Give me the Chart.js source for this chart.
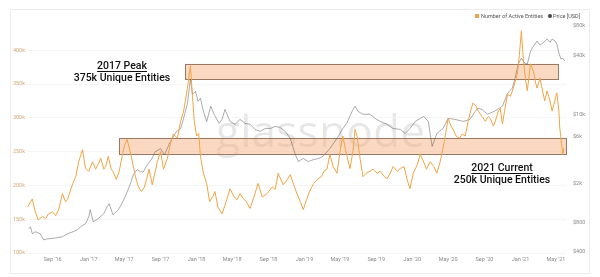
<!DOCTYPE html>
<html><head><meta charset="utf-8">
<script src="https://cdn.jsdelivr.net/npm/chart.js@4.4.0/dist/chart.umd.min.js"></script>
<style>
html,body{margin:0;padding:0;background:#fff;}
#wrap{position:relative;width:600px;height:277px;overflow:hidden;font-family:Roboto,sans-serif;}
#card{position:absolute;left:10px;top:9px;width:580px;height:265px;border:1px solid #ececec;box-sizing:border-box;}
#wm{position:absolute;left:216px;top:104px;font-family:'Open Sans',sans-serif;font-size:44px;line-height:52px;letter-spacing:0.3px;color:rgba(0,0,0,0.11);white-space:nowrap;}
#cv{position:absolute;left:0;top:0;width:600px;height:277px;}
.lg{position:absolute;top:12px;font-size:5.5px;line-height:8px;color:#555;white-space:nowrap;}
.sw{position:absolute;top:14px;width:4px;height:4px;}
.note{position:absolute;text-align:center;font-family:Roboto,sans-serif;font-weight:500;font-size:10.5px;line-height:12px;color:#111;white-space:nowrap;}
.note u{text-decoration:underline;text-decoration-thickness:1px;text-underline-offset:1.5px;}
</style></head>
<body>
<div id="wrap">
  <div id="card"></div>
  <div id="wm">glassnode</div>
  <div id="cv"><canvas id="c"></canvas></div>
  <div class="sw" style="left:475px;background:#f3a04a;"></div>
  <div class="lg" style="left:481px;">Number of Active Entities</div>
  <div class="sw" style="left:548px;background:#444;border-radius:50%;"></div>
  <div class="lg" style="left:553px;">Price [USD]</div>
  <div class="note" style="left:42px;top:60px;width:160px;"><u>2017 Peak</u><br>375k Unique Entities</div>
  <div class="note" style="left:422px;top:162px;width:160px;"><u>2021 Current</u><br>250k Unique Entities</div>
</div>
<script>
const entityDates = ['2016-06-08','2016-06-24','2016-07-04','2016-07-14','2016-07-28','2016-08-08','2016-08-18','2016-09-01','2016-09-11','2016-09-21','2016-10-04','2016-10-14','2016-10-21','2016-11-08','2016-11-18','2016-11-28','2016-12-11','2016-12-21','2017-01-01','2017-01-14','2017-01-24','2017-02-01','2017-02-11','2017-02-21','2017-02-27','2017-03-08','2017-03-18','2017-03-24','2017-04-04','2017-04-14','2017-04-24','2017-05-01','2017-05-11','2017-05-21','2017-06-01','2017-06-08','2017-06-18','2017-06-28','2017-07-08','2017-07-18','2017-07-24','2017-08-04','2017-08-14','2017-08-21','2017-09-01','2017-09-11','2017-09-24','2017-10-04','2017-10-14','2017-10-28','2017-11-08','2017-11-18','2017-12-01','2017-12-11','2017-12-18','2017-12-24','2018-01-01','2018-01-08','2018-01-14','2018-01-24','2018-02-04','2018-02-14','2018-02-24','2018-03-04','2018-03-14','2018-03-28','2018-04-11','2018-04-24','2018-05-08','2018-05-18','2018-05-28','2018-06-04','2018-06-18','2018-07-01','2018-07-14','2018-07-28','2018-08-11','2018-08-28','2018-09-14','2018-09-24','2018-10-04','2018-10-21','2018-11-04','2018-11-14','2018-11-28','2018-12-08','2018-12-18','2018-12-28','2019-01-08','2019-01-18','2019-02-01','2019-02-14','2019-02-27','2019-03-08','2019-03-18','2019-03-28','2019-04-08','2019-04-21','2019-05-01','2019-05-11','2019-05-21','2019-06-04','2019-06-14','2019-06-21','2019-06-28','2019-07-08','2019-07-18','2019-07-28','2019-08-11','2019-08-21','2019-09-04','2019-09-14','2019-09-28','2019-10-08','2019-10-18','2019-10-28','2019-11-11','2019-11-21','2019-12-04','2019-12-14','2019-12-24','2020-01-04','2020-01-18','2020-01-28','2020-02-08','2020-02-18','2020-03-01','2020-03-14','2020-03-24','2020-04-04','2020-04-14','2020-04-24','2020-05-01','2020-05-11','2020-05-18','2020-05-28','2020-06-08','2020-06-18','2020-06-28','2020-07-08','2020-07-18','2020-07-24','2020-08-04','2020-08-11','2020-08-24','2020-09-04','2020-09-14','2020-09-21','2020-10-01','2020-10-08','2020-10-18','2020-10-24','2020-11-01','2020-11-08','2020-11-18','2020-11-28','2020-12-08','2020-12-14','2020-12-21','2020-12-28','2021-01-04','2021-01-11','2021-01-18','2021-01-24','2021-02-04','2021-02-14','2021-02-20','2021-02-26','2021-03-08','2021-03-18','2021-03-24','2021-04-01','2021-04-11','2021-04-18','2021-04-24','2021-05-01','2021-05-04','2021-05-11','2021-05-14','2021-05-21','2021-05-24','2021-05-28'];
const entityValues = [168000,180000,161000,149000,154000,151000,158000,161000,155000,164000,188000,176000,179000,203000,213000,235000,253000,225000,221000,235000,224000,231000,240000,224000,228000,243000,224000,221000,209000,221000,243000,258000,268000,250000,228000,213000,198000,191000,197000,213000,224000,201000,221000,235000,250000,224000,240000,261000,276000,270000,295000,310000,344000,377000,332000,295000,273000,277000,243000,218000,203000,176000,183000,191000,168000,158000,176000,195000,183000,179000,188000,183000,176000,166000,183000,203000,183000,188000,198000,194000,218000,201000,209000,216000,198000,186000,176000,164000,179000,191000,203000,209000,213000,221000,224000,246000,228000,218000,250000,273000,250000,225000,250000,283000,273000,240000,213000,218000,221000,224000,218000,221000,213000,210000,218000,228000,221000,225000,228000,209000,195000,218000,231000,246000,235000,224000,235000,228000,218000,235000,255000,280000,299000,288000,283000,273000,270000,276000,273000,295000,313000,322000,317000,310000,302000,295000,302000,299000,288000,295000,310000,314000,291000,310000,335000,332000,344000,354000,365000,392000,429000,384000,357000,340000,380000,369000,354000,344000,359000,337000,325000,340000,325000,310000,320000,332000,337000,310000,285000,258000,246000,255000];

const priceDates = ['2016-06-11','2016-06-18','2016-06-24','2016-07-04','2016-07-21','2016-08-01','2016-08-14','2016-09-11','2016-10-04','2016-10-21','2016-11-08','2016-11-24','2016-12-04','2016-12-21','2017-01-01','2017-01-06','2017-01-16','2017-02-01','2017-02-21','2017-03-04','2017-03-11','2017-03-18','2017-03-24','2017-04-11','2017-04-21','2017-05-04','2017-05-21','2017-06-01','2017-06-14','2017-06-24','2017-07-04','2017-07-18','2017-08-01','2017-08-14','2017-09-01','2017-09-14','2017-10-04','2017-10-24','2017-11-08','2017-11-18','2017-12-01','2017-12-11','2017-12-18','2017-12-28','2018-01-06','2018-01-14','2018-01-24','2018-02-04','2018-02-18','2018-03-01','2018-03-18','2018-03-28','2018-04-07','2018-04-24','2018-05-11','2018-05-28','2018-06-14','2018-07-01','2018-07-18','2018-08-04','2018-08-21','2018-09-08','2018-09-24','2018-10-11','2018-10-28','2018-11-14','2018-12-01','2018-12-11','2018-12-28','2019-01-14','2019-02-01','2019-02-18','2019-03-04','2019-03-28','2019-04-21','2019-05-11','2019-05-24','2019-06-11','2019-06-21','2019-07-01','2019-07-18','2019-08-11','2019-08-28','2019-09-14','2019-10-08','2019-10-28','2019-11-21','2019-12-08','2019-12-24','2020-01-11','2020-01-28','2020-02-08','2020-02-24','2020-03-08','2020-03-24','2020-04-14','2020-05-01','2020-05-24','2020-06-21','2020-07-14','2020-08-08','2020-08-24','2020-09-11','2020-10-04','2020-11-01','2020-11-18','2020-12-04','2020-12-14','2020-12-24','2021-01-04','2021-01-14','2021-01-24','2021-02-04','2021-02-14','2021-02-26','2021-03-08','2021-03-18','2021-04-01','2021-04-11','2021-04-18','2021-04-28','2021-05-04','2021-05-11','2021-05-18','2021-05-24','2021-05-31'];
const priceValues = [690,720,612,641,612,531,543,556,570,612,641,672,721,774,912,1075,811,870,980,1155,1240,1075,956,1075,1210,1460,1940,2450,2760,2630,2600,3100,3500,4200,4500,3900,5300,6700,7200,9200,13000,23000,16100,17300,13700,14700,10800,8500,12200,10100,8150,8950,11300,8540,7960,8950,8150,7960,7080,6750,7240,7240,7590,7400,6750,5720,3930,3330,3580,3330,3490,3580,3750,4520,5720,7240,8150,10800,12200,10800,10100,10100,9170,8540,7960,7240,7080,6440,7240,8540,9170,9600,8540,4750,6440,7240,9170,8950,8540,8950,11600,11300,10100,10800,12200,16500,18600,23500,32700,37700,33700,32700,44400,49900,56200,51100,53600,58900,54700,58900,56200,52400,42400,36900,37700,35100];

const xTickDates = ['2016-09-01','2017-01-01','2017-05-01','2017-09-01','2018-01-01','2018-05-01','2018-09-01','2019-01-01','2019-05-01','2019-09-01','2020-01-01','2020-05-01','2020-09-01','2021-01-01','2021-05-01'];
const xTickLabels = ["Sep '16","Jan '17","May '17","Sep '17","Jan '18","May '18","Sep '18","Jan '19","May '19","Sep '19","Jan '20","May '20","Sep '20","Jan '21","May '21"];
const entityTicks = [100000,150000,200000,250000,300000,350000,400000];
const entityTickLabels = ['100k','150k','200k','250k','300k','350k','400k'];
const priceTicks = [400,800,2000,6000,10000,40000,80000];
const priceTickLabels = ['$400','$800','$2k','$6k','$10k','$40k','$80k'];

// highlighted bands: [start date, end date, low, high] in entity units
const bands = [
  ['2017-11-24','2021-05-08',357500,380000],
  ['2017-04-14','2021-06-04',246000,270000]
];

const t = d => Date.parse(d);
const entityData = entityDates.map((d,i)=>({x:t(d), y:entityValues[i]}));
const priceData = priceDates.map((d,i)=>({x:t(d), y:priceValues[i]}));

const bandPlugin = {
  id:'bands',
  beforeDatasetsDraw(chart){
    const {ctx, scales:{x, yL}} = chart;
    ctx.save();
    bands.forEach(b=>{
      const x0 = x.getPixelForValue(t(b[0])), x1 = x.getPixelForValue(t(b[1]));
      const y0 = yL.getPixelForValue(b[3]), y1 = yL.getPixelForValue(b[2]);
      ctx.fillStyle = 'rgba(247,168,118,0.45)';
      ctx.fillRect(x0, y0, x1-x0, y1-y0);
      ctx.strokeStyle = '#9a7866';
      ctx.lineWidth = 1;
      ctx.strokeRect(Math.round(x0)+0.5, Math.round(y0)+0.5, Math.round(x1-x0), Math.round(y1-y0));
    });
    ctx.restore();
  }
};

new Chart(document.getElementById('c'), {
  type:'line',
  data:{datasets:[
    {label:'Number of Active Entities', data:entityData, yAxisID:'yL', borderColor:'#f2a444', borderWidth:1.0, pointRadius:0, tension:0, order:1},
    {label:'Price [USD]', data:priceData, yAxisID:'yR', borderColor:'rgba(80,80,80,0.8)', borderWidth:0.6, pointRadius:0, tension:0, order:2}
  ]},
  options:{
    responsive:true, maintainAspectRatio:false, animation:false,
    layout:{padding:{top:26,bottom:4,left:0,right:0}},
    plugins:{legend:{display:false}, tooltip:{enabled:false}},
    scales:{
      x:{type:'linear', min:t('2016-06-06'), max:t('2021-06-04'),
         grid:{display:false, drawTicks:false}, border:{display:false},
         afterBuildTicks(s){ s.ticks = xTickDates.map(d=>({value:t(d)})); },
         afterFit(s){ s.height = 20; },
         ticks:{autoSkip:false, maxRotation:0, padding:3, color:'#8a8a8a', font:{family:'Roboto', size:5.5},
           callback(v){ const i = xTickDates.findIndex(d=>t(d)===v); return i>=0 ? xTickLabels[i] : ''; }}},
      yL:{type:'linear', position:'left', min:100000, max:436000,
         grid:{color:'#f2f2f2', drawTicks:false, lineWidth:0.8}, border:{display:false},
         afterBuildTicks(s){ s.ticks = entityTicks.map(v=>({value:v})); },
         afterFit(s){ s.width = 27; },
         ticks:{padding:2, color:'#d6a879', font:{family:'Roboto', size:5.5},
           callback(v){ const i = entityTicks.indexOf(v); return i>=0 ? entityTickLabels[i] : ''; }}},
      yR:{type:'logarithmic', position:'right', min:390, max:80000,
         grid:{display:false, drawTicks:false}, border:{display:false},
         afterBuildTicks(s){ s.ticks = priceTicks.map(v=>({value:v})); },
         afterFit(s){ s.width = 34; },
         ticks:{padding:7, color:'#8a8a8a', font:{family:'Roboto', size:5.5},
           callback(v){ const i = priceTicks.indexOf(v); return i>=0 ? priceTickLabels[i] : ''; }}}
    }
  },
  plugins:[bandPlugin]
});
</script>
</body></html>
